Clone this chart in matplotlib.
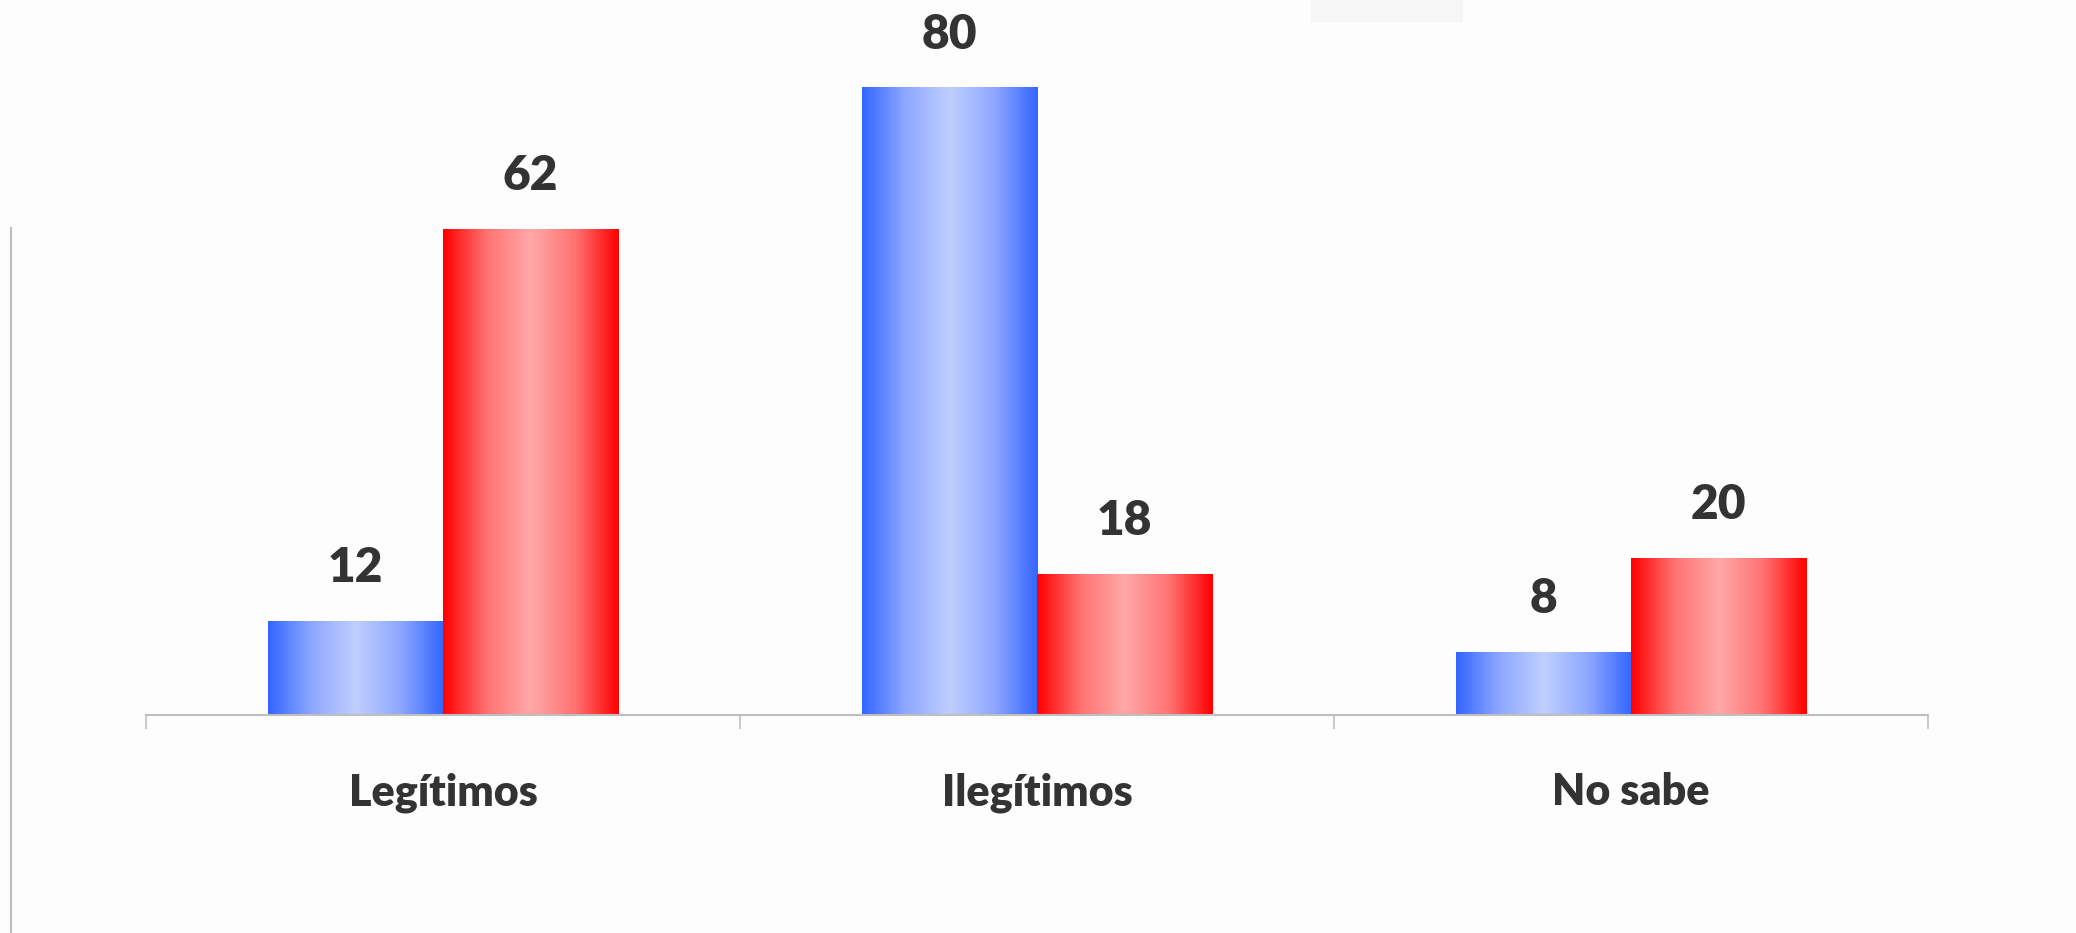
import matplotlib
matplotlib.use("Agg")
import matplotlib.pyplot as plt
import numpy as np
from matplotlib.colors import LinearSegmentedColormap
from matplotlib.lines import Line2D
from matplotlib.patches import Rectangle

# datos
categorias = ["Legítimos", "Ilegítimos", "No sabe"]
serie_azul = [12, 80, 8]
serie_roja = [62, 18, 20]

plt.rcParams['font.family'] = ['Lato', 'DejaVu Sans']

FONDO = "#FDFDFD"
GRIS = "#BFBFBF"
TEXTO = "#333333"

cmap_azul = LinearSegmentedColormap.from_list(
    "azul", [(0, "#3366FF"), (0.25, "#8FA8FF"), (0.5, "#BFCFFF"), (0.75, "#8FA8FF"), (1, "#3366FF")])
cmap_rojo = LinearSegmentedColormap.from_list(
    "rojo", [(0, "#FF0000"), (0.25, "#FF7373"), (0.5, "#FFA8A8"), (0.75, "#FF7373"), (1, "#FF0000")])


def rellenar_degradado(ax, barras, cmap):
    """Pinta cada barra con un degradado horizontal (claro en el centro)."""
    grad = np.linspace(0, 1, 256).reshape(1, -1)
    for b in barras:
        x0, w, h = b.get_x(), b.get_width(), b.get_height()
        im = ax.imshow(grad, cmap=cmap, aspect="auto", extent=[x0, x0 + w, 0, h],
                       interpolation="bicubic", zorder=2)
        im.set_clip_path(b)
        b.set_facecolor("none")


fig = plt.figure(figsize=(20.76, 9.33), dpi=100, facecolor=FONDO)
ax = fig.add_axes([0.0703, 0.2337, 0.8584, 0.7567])
ax.set_facecolor(FONDO)

x = np.arange(len(categorias))
ancho = 0.295

b_azul = ax.bar(x - ancho / 2, serie_azul, ancho, linewidth=0, zorder=2)
b_roja = ax.bar(x + ancho / 2, serie_roja, ancho, linewidth=0, zorder=2)
rellenar_degradado(ax, b_azul, cmap_azul)
rellenar_degradado(ax, b_roja, cmap_rojo)

ax.set_xlim(-0.5, len(categorias) - 0.5)
ax.set_ylim(0, 90)

# etiquetas de valor
for barras, vals in ((b_azul, serie_azul), (b_roja, serie_roja)):
    for b, v in zip(barras, vals):
        ax.annotate(f"{v}", xy=(b.get_x() + b.get_width() / 2, v),
                    xytext=(0, 28), textcoords="offset points",
                    ha="center", va="baseline", fontsize=34.5,
                    fontweight="heavy", color=TEXTO)

# nombres de categoría
for i, cat in enumerate(categorias):
    ax.annotate(cat, xy=(i, 0), xycoords=("data", "axes fraction"),
                xytext=(0, -65), textcoords="offset points",
                ha="center", va="baseline", fontsize=31,
                fontweight="heavy", color=TEXTO)

for s in ("left", "right", "top"):
    ax.spines[s].set_visible(False)
ax.spines["bottom"].set_color(GRIS)
ax.spines["bottom"].set_linewidth(1.5)
ax.set_yticks([])
ax.set_xticks(np.arange(len(categorias) + 1) - 0.5)
ax.set_xticklabels([])
ax.tick_params(axis="x", length=10, width=1.2, color=GRIS, direction="out")

# línea vertical a la izquierda y recuadro tenue arriba
fig.add_artist(Line2D([0.0053, 0.0053], [0, 0.7556], color=GRIS, linewidth=1.5,
                      transform=fig.transFigure))
fig.add_artist(Rectangle((1311 / 2076, 1 - 22 / 933), 152 / 2076, 22 / 933,
                         facecolor="#F6F6F6", edgecolor="none",
                         transform=fig.transFigure))

fig.savefig("out.png", dpi=100, facecolor=FONDO)
